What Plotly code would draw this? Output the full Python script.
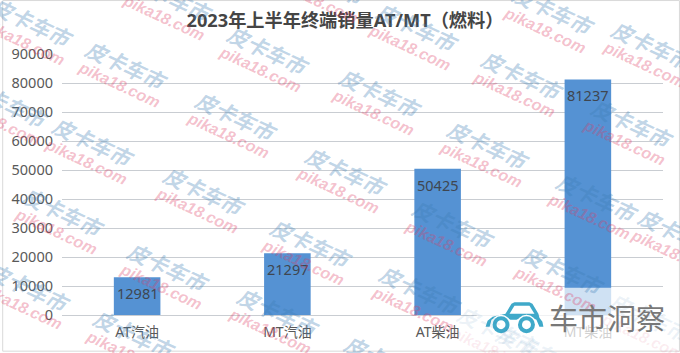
import plotly.graph_objects as go

categories = ["AT汽油", "MT汽油", "AT柴油", "MT柴油"]
sales = [12981, 21297, 50425, 81237]
y_ticks = [0, 10000, 20000, 30000, 40000, 50000, 60000, 70000, 80000, 90000]
title_text = "2023年上半年终端销量AT/MT（燃料）"
logo_text = "车市洞察"
wm_cn = "皮卡车市"
wm_en = "pika18.com"

W, H = 680, 353
L, R, T, B = 60, 663, 54, 315.3
CJK = "Noto Sans CJK SC"
LATIN = "Noto Sans, Noto Sans CJK SC"


def px(x):
    return (x - L) / (R - L)


def py(y):
    return (B - y) / (B - T)


def path(points):
    return "M" + " L".join(f"{px(x):.5f},{py(y):.5f}" for x, y in points) + " Z"


def circle(cx, cy, r, fill):
    return dict(type="circle", xref="paper", yref="paper", layer="above",
                x0=px(cx - r), x1=px(cx + r), y0=py(cy + r), y1=py(cy - r),
                fillcolor=fill, line=dict(width=0))


fig = go.Figure(go.Bar(
    x=categories, y=sales,
    marker=dict(color="#5592D3", line=dict(width=0)),
    width=0.31,
))

# Decorative watermark tiles, placed in page pixels.
wm_spots = [(30, 22), (125, 65), (267, 50), (170, -3), (324, -20), (235, 116), (92, 142), (5, 103),
            (62, 212), (167, 267), (203, 191), (310, 243), (27, 287), (277, 312), (133, 334),
            (417, 27), (553, 10), (652, 45), (522, 75), (380, 93), (632, 123), (488, 145),
            (345, 171), (453, 224), (420, 290), (563, 270), (597, 197), (680, 233), (537, 350),
            (650, 317), (385, 360), (498, 330)]

annotations = []
for cat, val in zip(categories, sales):
    annotations.append(dict(
        x=cat, y=val, xref="x", yref="y", text=str(val), showarrow=False,
        xanchor="center", yanchor="middle", yshift=-16,
        font=dict(family=LATIN, size=14.5, color="#3f4650")))

for (x, y) in wm_spots:
    fade = 0.3 if (x > 480 and y > 288) else 1
    annotations.append(dict(
        x=px(x), y=py(y), xref="paper", yref="paper", text=wm_cn, showarrow=False,
        textangle=25, xanchor="center", yanchor="middle",
        font=dict(family=CJK, size=21, weight="bold", style="italic",
                  color=f"rgba(60,125,180,{0.32 * fade:.3f})")))
    annotations.append(dict(
        x=px(x - 8), y=py(y + 20), xref="paper", yref="paper", text=wm_en, showarrow=False,
        textangle=25, xanchor="center", yanchor="middle",
        font=dict(family="Liberation Sans", size=16, weight="bold", style="italic",
                  color=f"rgba(220,60,100,{0.32 * fade:.3f})")))

annotations.append(dict(
    x=px(606.5), y=py(317), xref="paper", yref="paper", text=logo_text, showarrow=False,
    xanchor="center", yanchor="middle",
    font=dict(family=CJK, size=29, color="#787878")))

TEAL = "#3FA9C9"
shapes = [
    dict(type="rect", xref="paper", yref="paper", layer="above",
         x0=px(476), x1=px(680), y0=py(353), y1=py(288),
         fillcolor="rgba(255,255,255,0.72)", line=dict(width=0)),
    dict(type="path", xref="paper", yref="paper", layer="above", fillcolor=TEAL, line=dict(width=0),
         path=path([(485, 327), (487, 321), (492, 317), (505, 314), (511, 304), (514, 302.5),
                    (529, 302.5), (532, 304), (538, 314), (539, 318), (542, 322), (543, 327),
                    (539, 327), (536, 320), (526, 315), (516, 320), (510, 320),
                    (500, 315), (491, 320), (489, 327)])),
    dict(type="path", xref="paper", yref="paper", layer="above", fillcolor="white", line=dict(width=0),
         path=path([(509, 314), (514, 306), (529, 306), (534, 314)])),
    circle(500.5, 325, 10, "white"),
    circle(526, 325, 10, "white"),
    circle(500.5, 325, 8.5, TEAL),
    circle(526, 325, 8.5, TEAL),
    circle(500.5, 325, 4.5, "white"),
    circle(526, 325, 4.5, "white"),
    dict(type="rect", xref="paper", yref="paper", layer="above",
         x0=px(0.5), x1=px(679.5), y0=py(351.5), y1=py(0.5),
         fillcolor="rgba(0,0,0,0)", line=dict(color="#d9d9d9", width=1)),
]

fig.update_layout(
    width=W, height=H, autosize=False,
    margin=dict(l=L, r=W - R, t=T, b=H - B, pad=0),
    paper_bgcolor="white", plot_bgcolor="white",
    showlegend=False,
    title=dict(text=title_text, x=345 / W, xanchor="center", xref="container", y=1 - 21 / H, yanchor="middle",
               font=dict(family=LATIN, size=18.2, weight="bold", color="#454545")),
    xaxis=dict(type="category", categoryorder="array", categoryarray=categories,
               range=[-0.5, 3.5], showgrid=False, zeroline=False, showline=False, ticks="",
               tickfont=dict(family=LATIN, size=14, color="#595959"), ticklabelstandoff=7),
    yaxis=dict(range=[0, 90000], tickmode="array", tickvals=y_ticks, ticktext=[str(v) for v in y_ticks],
               showgrid=True, gridcolor="#c9cdd2", gridwidth=1, zeroline=True, zerolinecolor="#c9cdd2",
               zerolinewidth=1, showline=False, ticks="",
               tickfont=dict(family=LATIN, size=14.5, color="#595959"), ticklabelstandoff=8),
    annotations=annotations, shapes=shapes,
)
fig.write_html("out.html", config={"displayModeBar": False},
               post_script="document.body.style.margin='0';document.documentElement.style.overflow='hidden';")
